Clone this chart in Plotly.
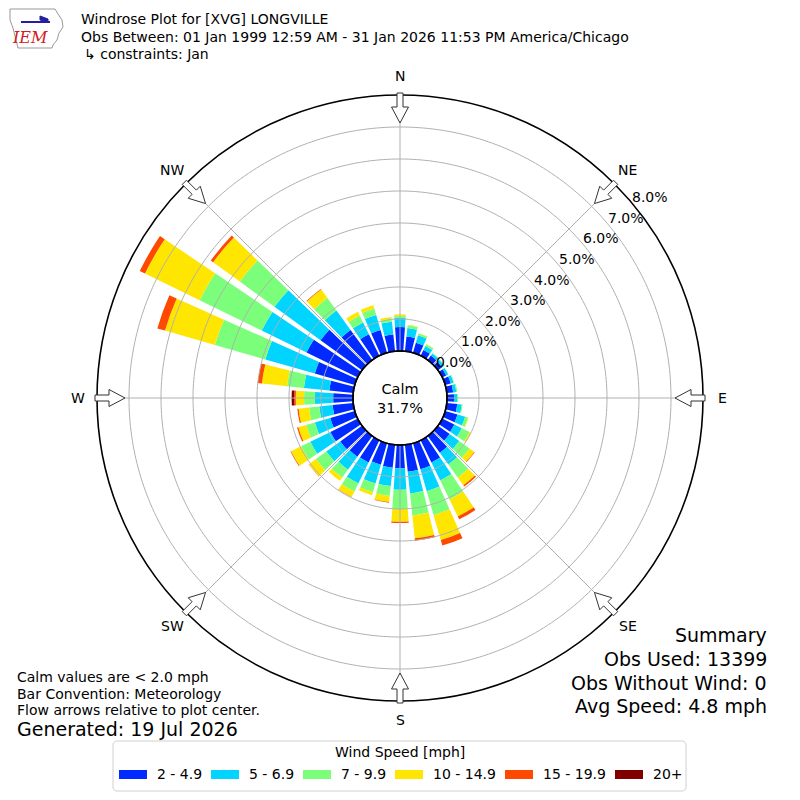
import numpy as np
import plotly.graph_objects as go

# wind direction bins (degrees, meteorological convention)
DIRECTIONS = list(range(0, 360, 10))

SPEED_LABELS = ["2 - 4.9", "5 - 6.9", "7 - 9.9", "10 - 14.9", "15 - 19.9", "20+"]
SPEED_COLORS = ["#002aff", "#00d4ff", "#7bff7b", "#ffe600", "#ff4800", "#800000"]

# percent of all observations, one value per direction bin
SPEED_2_5 = [0.75, 0.46, 0.33, 0.20, 0.17, 0.16, 0.14, 0.18, 0.20, 0.22, 0.33, 0.40,
             0.42, 0.45, 0.65, 0.77, 0.85, 0.85, 0.73, 0.72, 0.70, 0.77, 0.80, 0.84,
             0.95, 0.80, 0.65, 0.62, 0.75, 1.30, 1.78, 1.60, 1.16, 0.75, 0.74, 0.53]
SPEED_5_7 = [0.29, 0.27, 0.24, 0.14, 0.08, 0.08, 0.07, 0.09, 0.10, 0.10, 0.14, 0.25,
             0.26, 0.37, 0.45, 0.63, 0.71, 0.68, 0.67, 0.58, 0.61, 0.73, 0.50, 0.54,
             0.70, 0.50, 0.42, 0.57, 0.80, 1.61, 1.56, 1.78, 0.75, 0.41, 0.49, 0.40]
SPEED_7_10 = [0.06, 0.09, 0.06, 0.06, 0.02, 0.02, 0.01, 0.02, 0.03, 0.03, 0.03, 0.09,
              0.27, 0.40, 0.50, 0.66, 0.78, 0.69, 0.60, 0.31, 0.28, 0.28, 0.30, 0.40,
              0.32, 0.28, 0.32, 0.34, 0.53, 1.64, 2.16, 1.34, 0.48, 0.24, 0.21, 0.09]
SPEED_10_15 = [0.05, 0.01, 0.01, 0.01, 0.0, 0.0, 0.0, 0.0, 0.0, 0.0, 0.0, 0.02,
               0.05, 0.18, 0.30, 0.59, 0.81, 0.72, 0.40, 0.19, 0.10, 0.19, 0.13, 0.27,
               0.35, 0.26, 0.33, 0.26, 0.79, 1.62, 1.90, 1.03, 0.33, 0.13, 0.11, 0.06]
SPEED_15_20 = [0.0, 0.0, 0.0, 0.0, 0.0, 0.0, 0.0, 0.0, 0.0, 0.0, 0.0, 0.0,
               0.0, 0.02, 0.05, 0.10, 0.18, 0.08, 0.04, 0.02, 0.0, 0.01, 0.0, 0.01,
               0.02, 0.04, 0.04, 0.05, 0.13, 0.25, 0.18, 0.09, 0.02, 0.0, 0.0, 0.0]
SPEED_20_UP = [0.0, 0.0, 0.0, 0.0, 0.0, 0.0, 0.0, 0.0, 0.0, 0.0, 0.0, 0.0,
               0.0, 0.0, 0.0, 0.0, 0.0, 0.0, 0.0, 0.0, 0.0, 0.0, 0.0, 0.0,
               0.0, 0.0, 0.0, 0.08, 0.0, 0.0, 0.0, 0.0, 0.0, 0.0, 0.0, 0.0]

RADIAL_TICKS = [0, 1, 2, 3, 4, 5, 6, 7, 8]
COMPASS_LABELS = ["N", "NE", "E", "SE", "S", "SW", "W", "NW"]
COMPASS_ANGLES = [0, 45, 90, 135, 180, 225, 270, 315]
CALM_PCT = 31.7

TITLE_LINES = [
    "Windrose Plot for [XVG] LONGVILLE",
    "Obs Between: 01 Jan 1999 12:59 AM - 31 Jan 2026 11:53 PM America/Chicago",
    "\u21b3 constraints: Jan",
]
NOTE_LINES = [
    "Calm values are < 2.0 mph",
    "Bar Convention: Meteorology",
    "Flow arrows relative to plot center.",
]
GENERATED = "Generated: 19 Jul 2026"
SUMMARY_LINES = ["Summary", "Obs Used: 13399", "Obs Without Wind: 0", "Avg Speed: 4.8 mph"]

W, H = 800, 800
CX, CY = 400, 398
R_OUT, R_HOLE = 303, 47
PX_PER_PCT = (R_OUT - R_HOLE) / RADIAL_TICKS[-1]
FONT = "DejaVu Sans"
GRID = "#b0b0b0"


def paper(x, y):
    return x / W, 1 - y / H


def polar_px(r, ang, off=0.0):
    a = np.radians(ang)
    return (CX + r * np.sin(a) + off * np.cos(a), CY - r * np.cos(a) + off * np.sin(a))


def px_path(points, close=True):
    parts = []
    for i, (x, y) in enumerate(points):
        u, v = paper(x, y)
        parts.append(("M" if i == 0 else "L") + f"{u:.5f},{v:.5f}")
    return " ".join(parts) + (" Z" if close else "")


def text(x, y, s, size=13, anchor="left", **font):
    u, v = paper(x, y)
    return dict(x=u, y=v, xref="paper", yref="paper", text=s, showarrow=False,
                xanchor=anchor, yanchor="middle", borderpad=0,
                font=dict(family=font.pop("family", FONT), size=size,
                          color=font.pop("color", "black"), **font))


fig = go.Figure()

speed_series = [SPEED_2_5, SPEED_5_7, SPEED_7_10, SPEED_10_15, SPEED_15_20, SPEED_20_UP]
for label, color, values in zip(SPEED_LABELS, SPEED_COLORS, speed_series):
    fig.add_trace(
        go.Barpolar(
            r=values,
            theta=DIRECTIONS,
            width=8,
            name=label,
            marker=dict(color=color, line=dict(width=0)),
            hoverinfo="skip",
        )
    )

# grid drawn above the bars, like matplotlib does
ring_theta = np.linspace(0, 360, 361)
for tick in RADIAL_TICKS[1:-1]:
    fig.add_trace(go.Scatterpolar(r=[tick] * len(ring_theta), theta=ring_theta, mode="lines",
                                  line=dict(color=GRID, width=1), hoverinfo="skip"))
for ang in COMPASS_ANGLES:
    fig.add_trace(go.Scatterpolar(r=[0, RADIAL_TICKS[-1]], theta=[ang, ang], mode="lines",
                                  line=dict(color=GRID, width=1), hoverinfo="skip"))

x0, y1 = paper(CX - R_OUT, CY + R_OUT)
x1, y0 = paper(CX + R_OUT, CY - R_OUT)

fig.update_layout(
    width=W,
    height=H,
    margin=dict(l=0, r=0, t=0, b=0),
    paper_bgcolor="white",
    showlegend=False,
    polar=dict(
        domain=dict(x=[x0, x1], y=[y1, y0]),
        hole=R_HOLE / R_OUT,
        barmode="stack",
        bgcolor="white",
        radialaxis=dict(range=[0, RADIAL_TICKS[-1]], showticklabels=False, ticks="",
                        showline=False, showgrid=False),
        angularaxis=dict(rotation=90, direction="clockwise", showticklabels=False,
                         ticks="", showgrid=False, linecolor="black", linewidth=1.6),
    ),
)

shapes = []
annotations = []

# calm circle outline
cx0, cy0 = paper(CX - R_HOLE, CY + R_HOLE)
cx1, cy1 = paper(CX + R_HOLE, CY - R_HOLE)
shapes.append(dict(type="circle", xref="paper", yref="paper", x0=cx0, y0=cy0, x1=cx1, y1=cy1,
                   line=dict(color="black", width=1.5)))
annotations.append(text(CX, CY, f"Calm<br>{CALM_PCT:.1f}%", size=14.5, anchor="center"))

# hollow flow arrows and compass labels
arrow_outline = [(305, -3), (291, -3), (291, -8.5), (275, 0), (291, 8.5), (291, 3), (305, 3)]
for label, ang in zip(COMPASS_LABELS, COMPASS_ANGLES):
    pts = [polar_px(r, ang, off) for r, off in arrow_outline]
    shapes.append(dict(type="path", xref="paper", yref="paper", path=px_path(pts),
                       fillcolor="white", line=dict(color="#333333", width=1)))
    lx, ly = polar_px(322, ang)
    annotations.append(text(lx, ly, label, size=14, anchor="center"))

# radial percent labels
for tick in RADIAL_TICKS:
    bx, by = polar_px(R_HOLE + tick * PX_PER_PCT, 50)
    annotations.append(text(bx + 18, by - 6, f"{tick:.1f}%", size=14, anchor="center"))

# header
for i, line in enumerate(TITLE_LINES):
    annotations.append(text(80 if i < 2 else 83, 19 + 17.5 * i, line, size=14))

# IEM logo (rough)
iowa = [(10, 9), (55, 9), (58, 14), (62, 20), (63, 27), (59, 33), (57, 40), (53, 45),
        (52, 48), (18, 48), (16, 40), (13, 28), (10, 20)]
shapes.append(dict(type="path", xref="paper", yref="paper", path=px_path(iowa),
                   line=dict(color="#999999", width=1)))
lx0, ly0 = paper(21, 22)
lx1, ly1 = paper(50, 22)
shapes.append(dict(type="line", xref="paper", yref="paper", x0=lx0, y0=ly0, x1=lx1, y1=ly1,
                   line=dict(color="#2020a0", width=2)))
shapes.append(dict(type="path", xref="paper", yref="paper",
                   path=px_path([(40, 16), (48, 19), (48, 22), (40, 20)]),
                   fillcolor="#2020a0", line=dict(color="#2020a0", width=1)))
annotations.append(text(30, 38, "IEM", size=16, anchor="center", family="DejaVu Serif",
                        color="#d02020", style="italic"))

# notes bottom left
for i, line in enumerate(NOTE_LINES):
    annotations.append(text(16, 677 + 16.5 * i, line, size=14))
annotations.append(text(16, 729, GENERATED, size=19))

# summary bottom right
for i, line in enumerate(SUMMARY_LINES):
    annotations.append(text(768, 635 + 23.8 * i, line, size=19, anchor="right"))

# legend box
bx0, by0, bx1, by1, rad = 113, 741, 686, 791, 4
corner = []
for (ccx, ccy, a0) in [(bx1 - rad, by0 + rad, -90), (bx1 - rad, by1 - rad, 0),
                       (bx0 + rad, by1 - rad, 90), (bx0 + rad, by0 + rad, 180)]:
    for a in np.linspace(a0, a0 + 90, 5):
        corner.append((ccx + rad * np.cos(np.radians(a)), ccy + rad * np.sin(np.radians(a))))
shapes.append(dict(type="path", xref="paper", yref="paper", path=px_path(corner),
                   fillcolor="white", line=dict(color="#d0d0d0", width=1)))
annotations.append(text(400, 752, "Wind Speed [mph]", size=14, anchor="center"))
handle_x = [119, 211, 303, 395, 505, 615]
for hx, label, color in zip(handle_x, SPEED_LABELS, SPEED_COLORS):
    hx0, hy0 = paper(hx, 779)
    hx1, hy1 = paper(hx + 28, 770)
    shapes.append(dict(type="rect", xref="paper", yref="paper", x0=hx0, y0=hy0, x1=hx1, y1=hy1,
                       fillcolor=color, line=dict(width=0)))
    annotations.append(text(hx + 37, 774, label, size=14))

fig.update_layout(shapes=shapes, annotations=annotations)

fig.write_html("out.html", config={"displayModeBar": False},
               post_script="document.body.style.margin='0';")
